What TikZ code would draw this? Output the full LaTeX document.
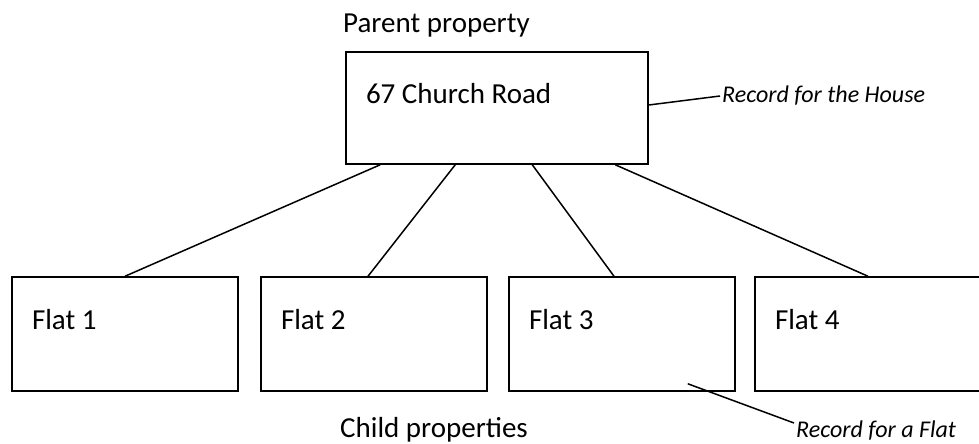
\documentclass[tikz,border=0pt]{standalone}
\usepackage{fontspec}
\setmainfont{Carlito}
\usetikzlibrary{
  calc
}
\tikzset{
  propbox/.style={
    draw,
    rectangle,
    line width=1.5pt,
    align=flush left,
    inner xsep=20pt,
    text height=20pt,
    text depth=29pt,
    font=\fontsize{29}{34}\selectfont
  },
  flatbox/.style={
    propbox,
    text width=186pt,
    minimum height=114pt
  },
  caption/.style={
    anchor=base west,
    inner sep=0pt,
    font=\fontsize{29}{34}\selectfont
  },
  note/.style={
    anchor=west,
    inner sep=2pt,
    font=\fontsize{24}{28}\selectfont\itshape
  },
  link/.style={
    line width=1.5pt
  }
}

\begin{document}
\begin{tikzpicture}[x=1pt,y=-1pt]
\useasboundingbox (0,0) rectangle (979,444);
\node[caption] (parentlbl) at (343,33) {Parent property};
\node[propbox, text width=262pt, minimum height=112pt] (parent) at (497,108) {67 Church Road};
\node[flatbox] (flat1) at (125,334) {Flat 1};
\node[flatbox] (flat2) at (374,334) {Flat 2};
\node[flatbox] (flat3) at (622,334) {Flat 3};
\node[flatbox] (flat4) at (868,334) {Flat 4};
\node[caption] (childlbl) at (340,437) {Child properties};
\node[note] (houserec) at (720,96) {Record for the House};
\node[note] (flatrec) at (794,431) {Record for a Flat};
\draw[link] ($(parent.south west)+(35,0)$) -- (flat1.north);
\draw[link] ($(parent.south west)+(110,0)$) -- ($(flat2.north)+(-6,0)$);
\draw[link] ($(parent.south west)+(187,0)$) -- ($(flat3.north)+(-8,0)$);
\draw[link] ($(parent.south west)+(270,0)$) -- (flat4.north);
\draw[link] ($(parent.east)+(0,-3)$) -- (houserec.west);
\draw[link] ($(flat3.south east)+(-48,-8)$) -- ($(flatrec.west)+(0,-8)$);
\end{tikzpicture}
\end{document}
